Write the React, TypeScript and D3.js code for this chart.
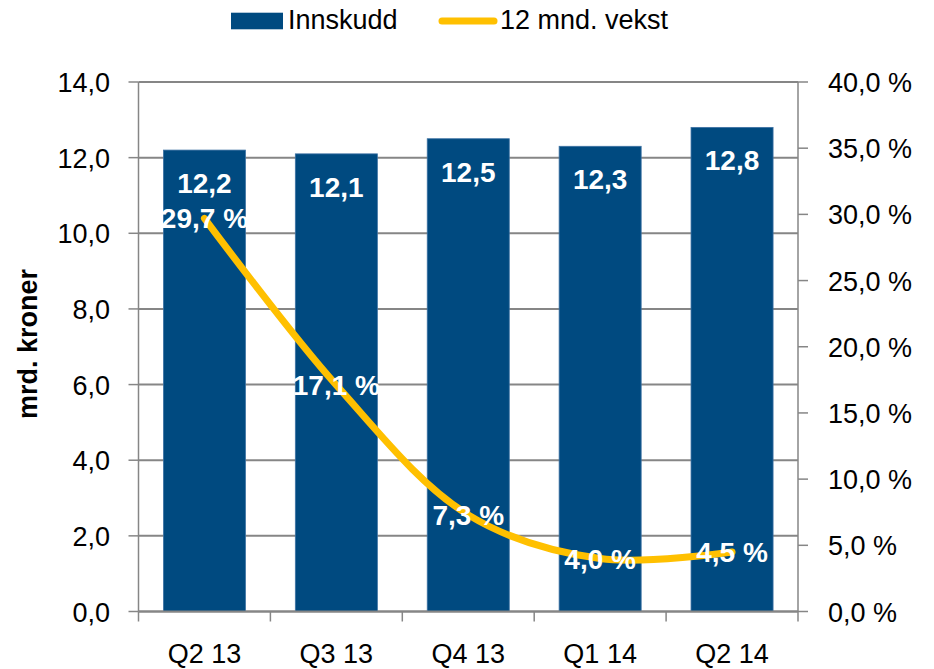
import React from "react";
import * as d3 from "d3";

const categories = ["Q2 13", "Q3 13", "Q4 13", "Q1 14", "Q2 14"];
const deposits = [12.2, 12.1, 12.5, 12.3, 12.8];
const growth = [29.7, 17.1, 7.3, 4.0, 4.5];
const leftTicks = [0, 2, 4, 6, 8, 10, 12, 14];
const rightTicks = [0, 5, 10, 15, 20, 25, 30, 35, 40];
const seriesNames = ["Innskudd", "12 mnd. vekst"];

const W = 934;
const H = 669;
const FONT = "'Liberation Sans', Arial, sans-serif";
const BAR = "#004A80";
const LINE = "#FFC000";
const GRID = "#868686";

const fmt = (v: number) => v.toFixed(1).replace(".", ",");

export default function App() {
  const left = 138.5;
  const right = 798;
  const top = 82;
  const bottom = 611.5;

  const x = d3
    .scaleBand<string>()
    .domain(categories)
    .range([left, right])
    .paddingInner(0.378)
    .paddingOuter(0.189);
  const yL = d3.scaleLinear().domain([0, 14]).range([bottom, top]);
  const yR = d3.scaleLinear().domain([0, 40]).range([bottom, top]);
  const step = (right - left) / categories.length;
  const cx = (c: string) => (x(c) as number) + x.bandwidth() / 2;

  const line = d3
    .line<number>()
    .x((_, i) => cx(categories[i]))
    .y((d) => yR(d))
    .curve(d3.curveCatmullRom.alpha(0.5));

  return (
    <svg
      width={W}
      height={H}
      style={{ position: "absolute", left: 0, top: 0, background: "#fff" }}
      fontFamily={FONT}
    >
      {/* legend */}
      <rect x={231} y={12.7} width={52} height={16.6} fill={BAR} />
      <text x={288} y={29} fontSize={27} fill="#000">
        {seriesNames[0]}
      </text>
      <line x1={442} x2={494} y1={21} y2={21} stroke={LINE} strokeWidth={7} strokeLinecap="round" />
      <text x={500} y={29} fontSize={27} fill="#000">
        {seriesNames[1]}
      </text>

      {/* gridlines */}
      {leftTicks.map((t) => (
        <line key={"g" + t} x1={left} x2={right} y1={yL(t)} y2={yL(t)} stroke={GRID} strokeWidth={2} />
      ))}

      {/* axes */}
      <line x1={left} x2={left} y1={top} y2={bottom} stroke={GRID} strokeWidth={1.5} />
      <line x1={right} x2={right} y1={top} y2={bottom} stroke={GRID} strokeWidth={1.5} />
      {leftTicks.map((t) => (
        <g key={"l" + t}>
          <line x1={left - 10} x2={left} y1={yL(t)} y2={yL(t)} stroke={GRID} strokeWidth={1.5} />
          <text x={110} y={yL(t) + 10} fontSize={27} textAnchor="end" fill="#000">
            {fmt(t)}
          </text>
        </g>
      ))}
      {rightTicks.map((t) => (
        <g key={"r" + t}>
          <line x1={right} x2={right + 10} y1={yR(t)} y2={yR(t)} stroke={GRID} strokeWidth={1.5} />
          <text x={828} y={yR(t) + 10} fontSize={27} fill="#000">
            {fmt(t) + " %"}
          </text>
        </g>
      ))}
      {d3.range(categories.length + 1).map((i) => (
        <line
          key={"ct" + i}
          x1={left + i * step}
          x2={left + i * step}
          y1={bottom}
          y2={bottom + 10}
          stroke={GRID}
          strokeWidth={1.5}
        />
      ))}
      {categories.map((c) => (
        <text key={"c" + c} x={cx(c)} y={663} fontSize={27} textAnchor="middle" fill="#000">
          {c}
        </text>
      ))}

      {/* axis title */}
      <text
        transform={`translate(37,344) rotate(-90)`}
        fontSize={27}
        fontWeight="bold"
        textAnchor="middle"
        fill="#000"
      >
        mrd. kroner
      </text>

      {/* bars */}
      {deposits.map((v, i) => (
        <rect
          key={"b" + i}
          x={x(categories[i])}
          y={yL(v)}
          width={x.bandwidth()}
          height={bottom - yL(v)}
          fill={BAR}
          stroke="#3d72a3"
          strokeWidth={0.8}
        />
      ))}
      {/* redraw baseline over bars */}
      <line x1={left} x2={right} y1={bottom} y2={bottom} stroke={GRID} strokeWidth={2} />

      {deposits.map((v, i) => (
        <text
          key={"bl" + i}
          x={cx(categories[i])}
          y={yL(v) + 43}
          fontSize={28}
          fontWeight="bold"
          textAnchor="middle"
          fill="#fff"
        >
          {fmt(v)}
        </text>
      ))}

      {/* line */}
      <path d={line(growth) || ""} fill="none" stroke={LINE} strokeWidth={7} strokeLinecap="round" strokeLinejoin="round" />

      {growth.map((v, i) => (
        <text
          key={"pl" + i}
          x={cx(categories[i])}
          y={yR(v) + 10}
          fontSize={28}
          fontWeight="bold"
          textAnchor="middle"
          fill="#fff"
        >
          {fmt(v) + " %"}
        </text>
      ))}
    </svg>
  );
}
